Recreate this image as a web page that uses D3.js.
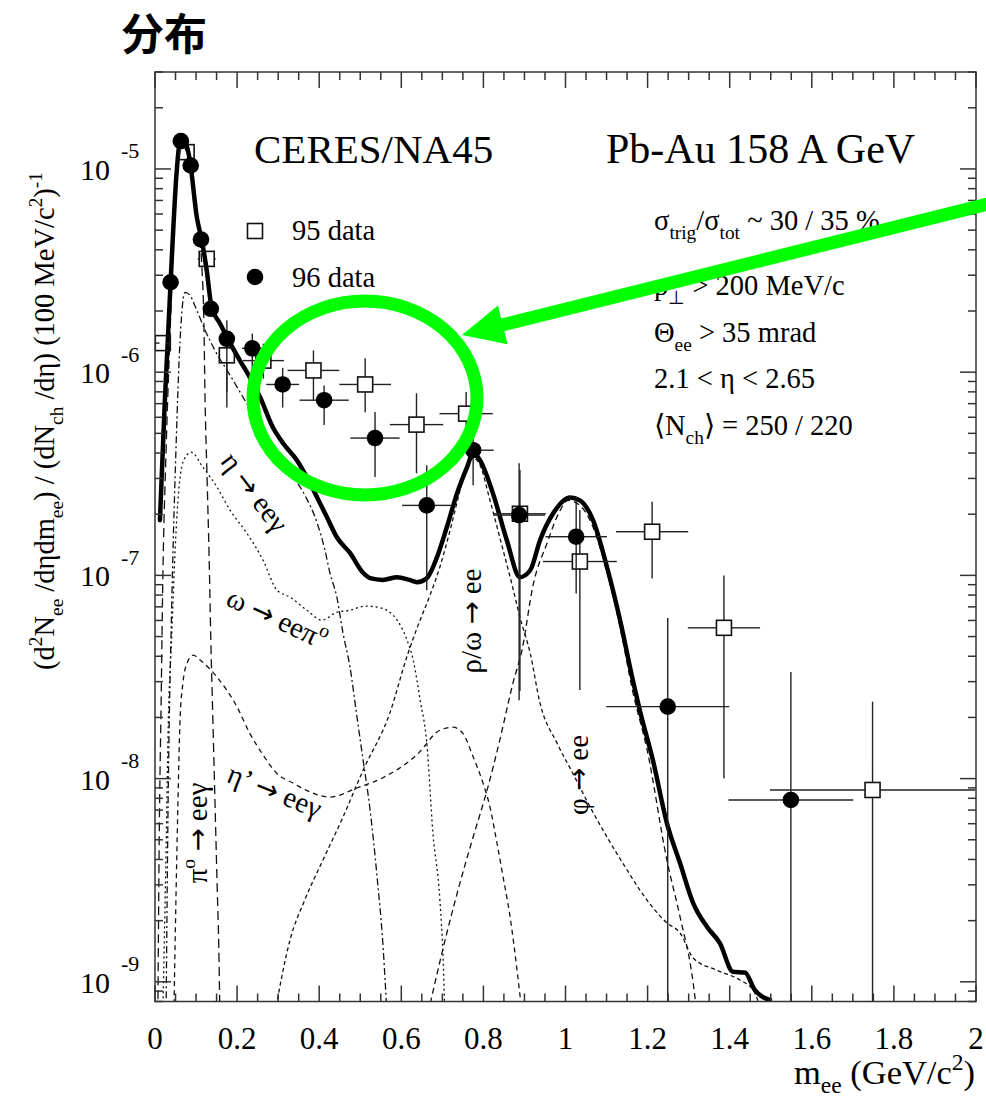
<!DOCTYPE html>
<html>
<head>
<meta charset="utf-8">
<script src="https://cdn.jsdelivr.net/npm/d3@7"></script>
<style>
  body { margin: 0; background: #fff; }
  svg { display: block; }
</style>
</head>
<body>
<svg id="chart" width="986" height="1099"></svg>
<script>
// ---- axis ticks ----
const xTickValues = [0, 0.2, 0.4, 0.6, 0.8, 1.0, 1.2, 1.4, 1.6, 1.8, 2.0];
const xTickLabels = ["0", "0.2", "0.4", "0.6", "0.8", "1", "1.2", "1.4", "1.6", "1.8", "2"];
const yDecades = [-9, -8, -7, -6, -5];

// ---- cocktail: total (thick line) ----
const totalM = [0.012,0.024,0.038,0.053,0.061,0.068,0.085,0.102,0.114,0.126,0.138,0.158,0.183,0.207,0.231,0.256,0.287,0.312,0.346,0.370,0.395,0.419,0.443,0.475,0.507,0.524,0.555,0.590,0.620,0.638,0.662,0.687,0.711,0.736,0.760,0.775,0.792,0.823,0.857,0.889,0.914,0.938,0.970,1.011,1.035,1.067,1.101,1.133,1.164,1.181,1.213,1.247,1.279,1.311,1.345,1.376,1.408,1.437,1.461,1.498];
const totalV = [1.87e-7,7.27e-7,2.77e-6,9.83e-6,1.38e-5,1.41e-5,1.10e-5,5.77e-6,4.45e-6,3.17e-6,2.08e-6,1.74e-6,1.39e-6,1.14e-6,9.43e-7,7.52e-7,5.36e-7,4.47e-7,3.68e-7,3.04e-7,2.42e-7,1.93e-7,1.54e-7,1.29e-7,1.03e-7,9.69e-8,9.5e-8,9.80e-8,9.5e-8,9.26e-8,9.69e-8,1.23e-7,1.73e-7,2.54e-7,3.40e-7,3.99e-7,3.68e-7,2.54e-7,1.49e-7,9.8e-8,1.06e-7,1.49e-7,2.02e-7,2.42e-7,2.34e-7,1.87e-7,1.10e-7,6.02e-8,3.05e-8,2.17e-8,1.23e-8,6.04e-9,3.84e-9,2.44e-9,1.86e-9,1.55e-9,1.12e-9,1.11e-9,9.12e-10,8.15e-10];

// ---- cocktail components ----
const piM = [0.007,0.010,0.015,0.019,0.027,0.037,0.046,0.056,0.066,0.076,0.088,0.102,0.114,0.119,0.122,0.127,0.132,0.136,0.141,0.146,0.151,0.156,0.158];
const piV = [7e-10,4.45e-9,2.43e-8,9.47e-8,4.13e-7,1.61e-6,4.98e-6,1.04e-5,1.31e-5,1.23e-5,9.29e-6,5.91e-6,3.35e-6,1.80e-6,7.27e-7,2.94e-7,1.19e-7,4.80e-8,1.94e-8,7.84e-9,3.17e-9,1.28e-9,7e-10];

const etaM = [0.027,0.032,0.041,0.051,0.061,0.073,0.085,0.102,0.122,0.146,0.183,0.219,0.256,0.292,0.329,0.365,0.395,0.414,0.426,0.443,0.458,0.475,0.492,0.507,0.524,0.541,0.555,0.565];
const etaV = [7e-10,7.84e-9,7.55e-8,4.13e-7,1.43e-6,2.47e-6,2.39e-6,2.01e-6,1.61e-6,1.28e-6,9.65e-7,7.27e-7,5.48e-7,4.13e-7,3.22e-7,2.48e-7,1.81e-7,1.33e-7,1.03e-7,7.81e-8,5.20e-8,3.54e-8,2.01e-8,1.23e-8,7.0e-9,3.28e-9,1.55e-9,7e-10];

const omDalM = [0.019,0.027,0.032,0.041,0.049,0.056,0.068,0.088,0.117,0.151,0.183,0.224,0.263,0.297,0.329,0.370,0.407,0.443,0.475,0.512,0.541,0.572,0.590,0.614,0.629,0.646,0.662,0.677,0.694,0.702,0.706];
const omDalV = [7e-10,4.45e-9,1.73e-8,5.20e-8,1.33e-7,2.34e-7,3.60e-7,4.04e-7,3.40e-7,2.72e-7,2.09e-7,1.61e-7,1.19e-7,8.46e-8,7.81e-8,6.74e-8,6.02e-8,6.59e-8,6.74e-8,7.06e-8,6.98e-8,6.59e-8,6.02e-8,4.80e-8,3.83e-8,2.43e-8,1.50e-8,5.40e-9,2.53e-9,1.28e-9,7e-10];

const etapM = [0.046,0.051,0.056,0.061,0.068,0.078,0.093,0.110,0.151,0.200,0.231,0.263,0.297,0.336,0.378,0.426,0.492,0.555,0.638,0.694,0.726,0.750,0.775,0.799,0.816,0.833,0.848,0.865,0.882,0.894];
const etapV = [7e-10,2.53e-9,7.84e-9,1.94e-8,2.95e-8,3.70e-8,4.05e-8,3.83e-8,3.16e-8,2.25e-8,1.67e-8,1.31e-8,1.06e-8,9.51e-9,8.59e-9,8.11e-9,8.99e-9,1.01e-8,1.31e-8,1.73e-8,1.79e-8,1.67e-8,1.28e-8,9.51e-9,7.25e-9,4.82e-9,3.28e-9,2.09e-9,1.14e-9,7e-10];

const rhoM = [0.292,0.329,0.365,0.409,0.458,0.507,0.572,0.614,0.641,0.670,0.694,0.719,0.743,0.760,0.775,0.792,0.816,0.848,0.870,0.889,0.914,0.938,0.979,1.018,1.060,1.101,1.150,1.181,1.247,1.279,1.311,1.369,1.425,1.457,1.479];
const rhoV = [7e-10,1.61e-9,2.53e-9,3.97e-9,6.47e-9,1.10e-8,2.10e-8,4.0e-8,5.69e-8,7.99e-8,1.10e-7,1.67e-7,2.62e-7,3.48e-7,3.77e-7,3.48e-7,2.34e-7,1.33e-7,8.95e-8,6.23e-8,4.14e-8,2.35e-8,1.50e-8,1.06e-8,7.25e-9,5.16e-9,3.55e-9,2.83e-9,1.95e-9,1.74e-9,1.31e-9,1.14e-9,1.02e-9,9.12e-10,7e-10];

const phiM = [0.665,0.711,0.743,0.775,0.809,0.840,0.872,0.894,0.921,0.955,0.987,1.006,1.035,1.067,1.101,1.133,1.164,1.199,1.247,1.279,1.311,1.320];
const phiV = [7e-10,1.74e-9,3.07e-9,5.16e-9,8.78e-9,1.55e-8,2.95e-8,4.29e-8,8.95e-8,1.44e-7,2.09e-7,2.34e-7,2.21e-7,1.73e-7,1.04e-7,5.56e-8,2.67e-8,1.38e-8,3.97e-9,2.09e-9,9.88e-10,7e-10];

// ---- measured spectra ----
const d95M    = [0.019, 0.077, 0.126, 0.175, 0.264, 0.386, 0.512, 0.637, 0.758, 0.889, 1.035, 1.211, 1.386, 1.748];
const d95V    = [1.39e-6, 1.21e-5, 3.61e-6, 1.21e-6, 1.14e-6, 1.02e-6, 8.7e-7, 5.52e-7, 6.25e-7, 2.01e-7, 1.17e-7, 1.64e-7, 5.52e-8, 8.79e-9];
const d95Xerr = [0.008, 0, 0.022, 0.02, 0.05, 0.063, 0.063, 0.065, 0.065, 0.063, 0.09, 0.088, 0.088, 0.25];
const d95Lo   = [1.39e-6, 1.21e-5, 3.61e-6, 8.0e-7, 9.3e-7, 7.27e-7, 6.35e-7, 3.18e-7, 4.63e-7, 2.7e-8, 2.73e-8, 9.66e-8, 1.0e-8, 1e-10];
const d95Hi   = [1.39e-6, 1.21e-5, 3.61e-6, 1.6e-6, 1.38e-6, 1.28e-6, 1.17e-6, 7.87e-7, 7.99e-7, 3.3e-7, 2.09e-7, 2.3e-7, 1.0e-7, 2.39e-8];

const d96M    = [0.038, 0.063, 0.087, 0.112, 0.136, 0.175, 0.237, 0.311, 0.412, 0.536, 0.662, 0.775, 0.887, 1.026, 1.249, 1.549];
const d96V    = [2.77e-6, 1.37e-5, 1.04e-5, 4.5e-6, 2.05e-6, 1.46e-6, 1.31e-6, 8.7e-7, 7.28e-7, 4.74e-7, 2.21e-7, 4.13e-7, 1.98e-7, 1.55e-7, 2.26e-8, 7.85e-9];
const d96Xerr = [0, 0, 0, 0, 0, 0.012, 0.025, 0.04, 0.06, 0.06, 0.06, 0.05, 0.063, 0.075, 0.15, 0.152];
const d96Lo   = [2.77e-6, 1.37e-5, 1.04e-5, 4.5e-6, 2.05e-6, 6.7e-7, 9.5e-7, 6.7e-7, 5.5e-7, 3.05e-7, 8.46e-8, 2.78e-7, 2.43e-8, 8.15e-8, 1e-10, 1e-10];
const d96Hi   = [2.77e-6, 1.37e-5, 1.04e-5, 4.5e-6, 2.05e-6, 1.8e-6, 1.55e-6, 1.05e-6, 8.6e-7, 6.37e-7, 3.48e-7, 8.15e-7, 3.56e-7, 2.43e-7, 6.17e-8, 3.35e-8];

// ---- layout ----
const W = 986, H = 1099;
const L = 155, R = 976, T = 72, B = 1001.5;
const SERIF = "'Liberation Serif', 'Times New Roman', serif";
const ARROW_FONT = "'DejaVu Sans', sans-serif";

const svg = d3.select("#chart");
svg.append("rect").attr("width", W).attr("height", H).attr("fill", "#fff");

const x = d3.scaleLinear().domain([0, 2]).range([L, R]);
const y = d3.scaleLog().domain([8e-10, 3e-5]).range([B, T]);

svg.append("defs").append("clipPath").attr("id", "plotClip")
  .append("rect").attr("x", L).attr("y", T).attr("width", R - L).attr("height", B - T);

// text with _{sub} and ^{sup} pieces; arrows get a wider glyph
function rich(textSel, str, size, subShift = 0.3) {
  const re = /([_^])\{([^}]*)\}|([^_^]+)/g;
  let m, cur = 0;
  while ((m = re.exec(str))) {
    if (m[3] !== undefined) {
      const parts = m[3].split(/(→)/).filter(p => p.length);
      parts.forEach((p, k) => {
        const ts = textSel.append("tspan").attr("dy", k === 0 ? -cur : 0).attr("font-size", size).text(p);
        if (p === "→") ts.attr("font-family", ARROW_FONT).attr("font-size", size * 0.95);
      });
      cur = 0;
    } else {
      const target = m[1] === "_" ? size * subShift : -size * 0.42;
      textSel.append("tspan").attr("dy", target - cur).attr("font-size", size * 0.68).text(m[2]);
      cur = target;
    }
  }
  return textSel;
}

// ---- title ----
svg.append("text")
  .attr("x", 121).attr("y", 50)
  .attr("font-family", "'Noto Sans CJK SC', 'Noto Sans', sans-serif")
  .attr("font-weight", 700).attr("font-size", 43).attr("fill", "#000")
  .text("分布");

// ---- curves ----
const plot = svg.append("g").attr("clip-path", "url(#plotClip)");
const line = d3.line().x(d => x(d[0])).y(d => y(d[1])).curve(d3.curveMonotoneX);
const zip = (a, b) => a.map((v, i) => [v, b[i]]);

const components = [
  { m: piM,    v: piV,    dash: "9,5" },
  { m: etaM,   v: etaV,   dash: "7,3,2,3" },
  { m: omDalM, v: omDalV, dash: "2,3" },
  { m: etapM,  v: etapV,  dash: "5,4" },
  { m: rhoM,   v: rhoV,   dash: "4,3" },
  { m: phiM,   v: phiV,   dash: "6,4" }
];
components.forEach(c => {
  plot.append("path").datum(zip(c.m, c.v))
    .attr("d", line).attr("fill", "none")
    .attr("stroke", "#111").attr("stroke-width", 1.3)
    .attr("stroke-dasharray", c.dash);
});

plot.append("path").datum(zip(totalM, totalV))
  .attr("d", line).attr("fill", "none")
  .attr("stroke", "#000").attr("stroke-width", 4.5)
  .attr("stroke-linejoin", "round").attr("stroke-linecap", "round");

// ---- data points ----
const ERR = "#222";
const HALF_SQ = 7.5;
function errorBars(g, M, V, XE, LO, HI, gap) {
  M.forEach((m, i) => {
    const cx = x(m), cy = y(V[i]);
    if (XE[i] > 0) {
      g.append("line").attr("x1", x(m - XE[i])).attr("x2", cx - gap).attr("y1", cy).attr("y2", cy);
      g.append("line").attr("x1", cx + gap).attr("x2", x(m + XE[i])).attr("y1", cy).attr("y2", cy);
    }
    if (HI[i] > V[i]) g.append("line").attr("x1", cx).attr("x2", cx).attr("y1", y(HI[i])).attr("y2", cy - gap);
    if (LO[i] < V[i]) g.append("line").attr("x1", cx).attr("x2", cx).attr("y1", cy + gap).attr("y2", y(LO[i]));
  });
}
const eb95 = plot.append("g").attr("stroke", ERR).attr("stroke-width", 1.4);
errorBars(eb95, d95M, d95V, d95Xerr, d95Lo, d95Hi, HALF_SQ);
const eb96 = plot.append("g").attr("stroke", ERR).attr("stroke-width", 1.4);
errorBars(eb96, d96M, d96V, d96Xerr, d96Lo, d96Hi, 0);

plot.append("g").selectAll("rect").data(d3.range(d95M.length)).join("rect")
  .attr("x", i => x(d95M[i]) - HALF_SQ).attr("y", i => y(d95V[i]) - HALF_SQ)
  .attr("width", 2 * HALF_SQ).attr("height", 2 * HALF_SQ)
  .attr("fill", "none").attr("stroke", "#111").attr("stroke-width", 1.6);

plot.append("g").selectAll("circle").data(d3.range(d96M.length)).join("circle")
  .attr("cx", i => x(d96M[i])).attr("cy", i => y(d96V[i])).attr("r", 8.3)
  .attr("fill", "#000");

// ---- frame and ticks ----
const axis = svg.append("g").attr("stroke", "#333").attr("stroke-width", 1.5);
axis.append("rect").attr("x", L).attr("y", T).attr("width", R - L).attr("height", B - T).attr("fill", "none");

const xMinor = d3.range(0, 2.0001, 0.05);
xMinor.forEach(v => {
  const major = Math.abs(v / 0.2 - Math.round(v / 0.2)) < 1e-6;
  const len = major ? 16 : 8;
  axis.append("line").attr("x1", x(v)).attr("x2", x(v)).attr("y1", B).attr("y2", B - len);
  axis.append("line").attr("x1", x(v)).attr("x2", x(v)).attr("y1", T).attr("y2", T + len);
});

const yTicksAll = [];
for (let e = -10; e <= -5; e++) {
  for (let k = 1; k <= 9; k++) {
    const v = k * Math.pow(10, e);
    if (v >= 8e-10 * 0.999 && v <= 3e-5 * 1.001) yTicksAll.push({ v, major: k === 1 });
  }
}
yTicksAll.forEach(t => {
  const len = t.major ? 16 : 8;
  axis.append("line").attr("x1", L).attr("x2", L + len).attr("y1", y(t.v)).attr("y2", y(t.v));
  axis.append("line").attr("x1", R).attr("x2", R - len).attr("y1", y(t.v)).attr("y2", y(t.v));
});

// tick labels
const labels = svg.append("g").attr("font-family", SERIF).attr("fill", "#000");
xTickValues.forEach((v, i) => {
  labels.append("text").attr("x", x(v)).attr("y", 1049)
    .attr("text-anchor", "middle").attr("font-size", 31).text(xTickLabels[i]);
});
yDecades.forEach(e => {
  const yy = y(Math.pow(10, e));
  labels.append("text").attr("x", 110).attr("y", yy + 11)
    .attr("text-anchor", "end").attr("font-size", 30).text("10");
  labels.append("text").attr("x", 121).attr("y", yy - 10.5)
    .attr("font-size", 22).text("-" + Math.abs(e));
});

// axis titles
rich(labels.append("text").attr("x", R - 1).attr("y", 1084).attr("text-anchor", "end"),
  "m_{ee} (GeV/c^{2})", 34.5, 0.25);
rich(labels.append("text").attr("transform", "translate(54,421) rotate(-90)").attr("text-anchor", "middle"),
  "(d^{2}N_{ee} /dηdm_{ee}) / (dN_{ch} /dη) (100 MeV/c^{2})^{-1}", 28.5);

// ---- headline texts ----
labels.append("text").attr("x", 254).attr("y", 163).attr("font-size", 41).text("CERES/NA45");
labels.append("text").attr("x", 606).attr("y", 163).attr("font-size", 42).text("Pb-Au 158 A GeV");

const cuts = [
  "σ_{trig}/σ_{tot} ~ 30 / 35 %",
  "p_{⊥} > 200 MeV/c",
  "Θ_{ee} > 35 mrad",
  "2.1 < η < 2.65",
  "⟨N_{ch}⟩ = 250 / 220"
];
const cutY = [230, 295, 342, 388, 435];
cuts.forEach((s, i) => {
  rich(labels.append("text").attr("x", 654).attr("y", cutY[i]), s, 28.5);
});

// ---- legend ----
svg.append("rect").attr("x", 247.5).attr("y", 223.5).attr("width", 15).attr("height", 15)
  .attr("fill", "none").attr("stroke", "#111").attr("stroke-width", 1.6);
svg.append("circle").attr("cx", 255).attr("cy", 277).attr("r", 8.3).attr("fill", "#000");
labels.append("text").attr("x", 292).attr("y", 240).attr("font-size", 28.5).text("95 data");
labels.append("text").attr("x", 292).attr("y", 287).attr("font-size", 28.5).text("96 data");

// ---- component labels ----
const compLabels = [
  { t: "η → eeγ",      tx: 247, ty: 498, rot: 53 },
  { t: "ω → eeπ^{o}",  tx: 273, ty: 627, rot: 25 },
  { t: "η’ → eeγ",     tx: 271, ty: 800, rot: 22 },
  { t: "π^{o} → eeγ",  tx: 207, ty: 833, rot: -90 },
  { t: "ρ/ω → ee",     tx: 481, ty: 621, rot: -90 },
  { t: "φ → ee",       tx: 588, ty: 775, rot: -90 }
];
compLabels.forEach(c => {
  rich(labels.append("text")
    .attr("transform", `translate(${c.tx},${c.ty}) rotate(${c.rot})`)
    .attr("text-anchor", "middle"), c.t, 29);
});

// ---- highlight: ellipse and arrow ----
const GREEN = "#00ff00";
svg.append("ellipse").attr("cx", 365).attr("cy", 398).attr("rx", 112).attr("ry", 97)
  .attr("fill", "none").attr("stroke", GREEN).attr("stroke-width", 13);

const tip = [462, 335], start = [992, 203];
const dx = tip[0] - start[0], dy = tip[1] - start[1];
const len = Math.hypot(dx, dy), ux = dx / len, uy = dy / len;
const headLen = 42, headHalf = 20;
const base = [tip[0] - headLen * ux, tip[1] - headLen * uy];
svg.append("line").attr("x1", start[0]).attr("y1", start[1])
  .attr("x2", base[0] + 2 * ux).attr("y2", base[1] + 2 * uy)
  .attr("stroke", GREEN).attr("stroke-width", 13);
svg.append("polygon")
  .attr("points", [
    tip,
    [base[0] - headHalf * uy, base[1] + headHalf * ux],
    [base[0] + headHalf * uy, base[1] - headHalf * ux]
  ].map(p => p.join(",")).join(" "))
  .attr("fill", GREEN);
</script>
</body>
</html>
